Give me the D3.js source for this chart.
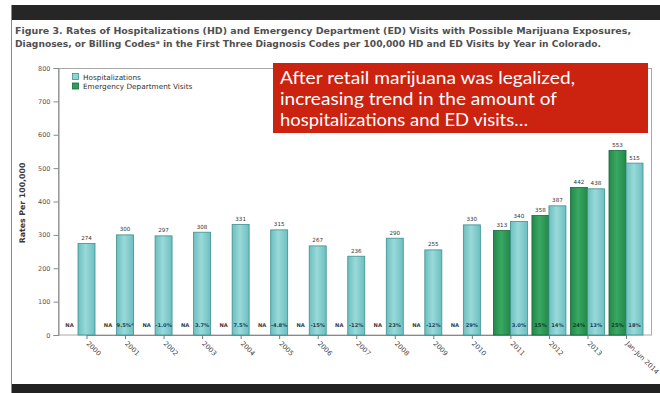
<!DOCTYPE html>
<html>
<head>
<meta charset="utf-8">
<script src="https://cdn.jsdelivr.net/npm/d3@7"></script>
<style>
  html, body { margin: 0; padding: 0; background: #ffffff; }
  svg { display: block; }
</style>
</head>
<body>
<svg id="chart" width="660" height="393"></svg>
<script>
// ---- data ----
const categories = ["2000","2001","2002","2003","2004","2005","2006","2007","2008","2009","2010","2011","2012","2013","Jan-Jun 2014"];
const hospValues = [274,300,297,308,331,315,267,236,290,255,330,340,387,438,515];
const edValues   = [null,null,null,null,null,null,null,null,null,null,null,313,358,442,553];
const hospChange = ["","9.5%ᵈ","-1.0%","3.7%","7.5%","-4.8%","-15%","-12%","23%","-12%","29%","3.0%","14%","13%","18%"];
const edChange   = ["NA","NA","NA","NA","NA","NA","NA","NA","NA","NA","NA","","15%","24%","25%"];
const yTicks = [0,100,200,300,400,500,600,700,800];
const seriesNames = ["Hospitalizations","Emergency Department Visits"];
const titleLines = [
  "Figure 3. Rates of Hospitalizations (HD) and Emergency Department (ED) Visits with Possible Marijuana Exposures,",
  "Diagnoses, or Billing Codesᵃ in the First Three Diagnosis Codes per 100,000 HD and ED Visits by Year in Colorado."
];
const noteLines = [
  "After retail marijuana was legalized,",
  "increasing trend in the amount of",
  "hospitalizations and ED visits…"
];

const svg = d3.select("#chart");

// ---- slide frame ----
svg.append("rect").attr("x",0).attr("y",0).attr("width",660).attr("height",393).attr("fill","#ffffff");
svg.append("rect").attr("x",11).attr("y",5).attr("width",649).attr("height",15).attr("fill","#262626");
svg.append("rect").attr("x",11).attr("y",384).attr("width",649).attr("height",9).attr("fill","#222222");
svg.append("line").attr("x1",11.5).attr("x2",11.5).attr("y1",5).attr("y2",393).attr("stroke","#8a8a8a").attr("stroke-width",1);

// ---- defs (bar gradients) ----
const defs = svg.append("defs");
function grad(id, edge, mid) {
  const g = defs.append("linearGradient").attr("id", id).attr("x1","0").attr("x2","1").attr("y1","0").attr("y2","0");
  g.append("stop").attr("offset","0%").attr("stop-color", edge);
  g.append("stop").attr("offset","45%").attr("stop-color", mid);
  g.append("stop").attr("offset","100%").attr("stop-color", edge);
}
grad("gHosp", "#6cbfc0", "#9ad9d9");
grad("gEd", "#23884a", "#39a862");

// ---- title ----
const title = svg.append("g").attr("font-family","DejaVu Sans, Verdana, sans-serif").attr("font-weight","bold").attr("fill","#505050");
const titleLens = [616, 586];
titleLines.forEach((s,i) => {
  title.append("text").attr("x",15).attr("y",34 + i*13).attr("font-size",9.3)
    .attr("textLength",titleLens[i]).attr("lengthAdjust","spacingAndGlyphs").text(s);
});

// ---- scales ----
const x = d3.scalePoint().domain(categories).range([86.5, 626]);
const y = d3.scaleLinear().domain([0, 800]).range([335, 68]);
const bw = 17;

// plot frame
svg.append("rect").attr("x",58.5).attr("y",68.5).attr("width",593).attr("height",266.5)
  .attr("fill","none").attr("stroke","#a8a8a8").attr("stroke-width",1);

// y axis
const yAxis = d3.axisLeft(y).tickValues(yTicks).tickSize(5).tickPadding(3);
const yg = svg.append("g").attr("transform","translate(58.5,0)").call(yAxis);
yg.select(".domain").attr("stroke","#8a8a8a");
yg.selectAll(".tick line").attr("stroke","#8a8a8a");
yg.selectAll(".tick text").attr("font-family","DejaVu Sans, sans-serif").attr("font-size",6.5).attr("fill","#555");

// y title
svg.append("text").attr("transform","translate(25,203) rotate(-90)")
  .attr("text-anchor","middle").attr("font-family","DejaVu Sans, sans-serif")
  .attr("font-weight","bold").attr("font-size",7.8).attr("fill","#3a3a3a").text("Rates Per 100,000");

// x axis
const xAxis = d3.axisBottom(x).tickSize(4).tickSizeOuter(0);
const xg = svg.append("g").attr("transform","translate(0,335)").call(xAxis);
xg.select(".domain").attr("stroke","#8a8a8a");
xg.selectAll(".tick line").attr("stroke","#777");
xg.selectAll(".tick text")
  .attr("text-anchor","start").attr("dy",null).attr("y",null)
  .attr("transform","translate(-1,9) rotate(45)")
  .attr("font-family","DejaVu Sans, sans-serif").attr("font-size",6.8).attr("fill","#444");

// ---- bars ----
const rows = categories.map((c,i) => ({c, i, h: hospValues[i], e: edValues[i], hc: hospChange[i], ec: edChange[i]}));
const hospX = d => d.e == null ? x(d.c) - bw/2 : x(d.c);
const edX = d => x(d.c) - bw;
const edLabelX = d => d.e == null ? x(d.c) - bw : x(d.c) - bw/2;

const bars = svg.append("g");
bars.selectAll("rect.ed").data(rows.filter(d => d.e != null)).join("rect")
  .attr("class","ed").attr("x", d => edX(d)).attr("width", bw)
  .attr("y", d => y(d.e)).attr("height", d => y(0) - y(d.e))
  .attr("fill","url(#gEd)").attr("stroke","#17693a").attr("stroke-width",0.8);
bars.selectAll("rect.hosp").data(rows).join("rect")
  .attr("class","hosp").attr("x", d => hospX(d)).attr("width", bw)
  .attr("y", d => y(d.h)).attr("height", d => y(0) - y(d.h))
  .attr("fill","url(#gHosp)").attr("stroke","#3f8f90").attr("stroke-width",0.8);

// value labels
const vl = svg.append("g").attr("font-family","DejaVu Sans, sans-serif").attr("font-size",5.6).attr("fill","#333").attr("text-anchor","middle");
vl.selectAll("text.hv").data(rows).join("text").attr("class","hv")
  .attr("x", d => hospX(d) + bw/2).attr("y", d => y(d.h) - 3.5).text(d => d.h);
vl.selectAll("text.ev").data(rows.filter(d => d.e != null)).join("text").attr("class","ev")
  .attr("x", d => edX(d) + bw/2).attr("y", d => y(d.e) - 3.5).text(d => d.e);

// in-bar change labels
const cl = svg.append("g").attr("font-family","DejaVu Sans, sans-serif").attr("font-weight","bold")
  .attr("font-size",5.2).attr("text-anchor","middle");
cl.selectAll("text.hc").data(rows.filter(d => d.hc)).join("text").attr("class","hc")
  .attr("x", d => hospX(d) + bw/2).attr("y", 327).attr("fill","#1d4457").text(d => d.hc);
cl.selectAll("text.ec").data(rows.filter(d => d.ec)).join("text").attr("class","ec")
  .attr("x", d => edLabelX(d)).attr("y", 327)
  .attr("fill", d => d.e == null ? "#3a3a3a" : "#0f3b25").text(d => d.ec);

// ---- legend ----
const lg = svg.append("g").attr("font-family","DejaVu Sans, sans-serif").attr("font-size",7.3).attr("fill","#333");
const legendFill = ["#8fd3d3","#2f9e58"];
const legendStroke = ["#3f8f90","#17693a"];
seriesNames.forEach((n,i) => {
  lg.append("rect").attr("x",72.5).attr("y",73.5 + i*9.5).attr("width",6).attr("height",6)
    .attr("fill",legendFill[i]).attr("stroke",legendStroke[i]).attr("stroke-width",0.8);
  lg.append("text").attr("x",83).attr("y",79.5 + i*9.5).text(n);
});

// ---- annotation box ----
svg.append("rect").attr("x",273).attr("y",63).attr("width",375).attr("height",70).attr("fill","#cc2210");
const note = svg.append("g").attr("font-family","Lato, Open Sans, sans-serif").attr("font-size",17.5).attr("fill","#ffffff");
const noteLens = [295, 277, 248];
noteLines.forEach((s,i) => {
  note.append("text").attr("x",280).attr("y",84 + i*21)
    .attr("textLength", noteLens[i]).attr("lengthAdjust","spacingAndGlyphs").text(s);
});
</script>
</body>
</html>
